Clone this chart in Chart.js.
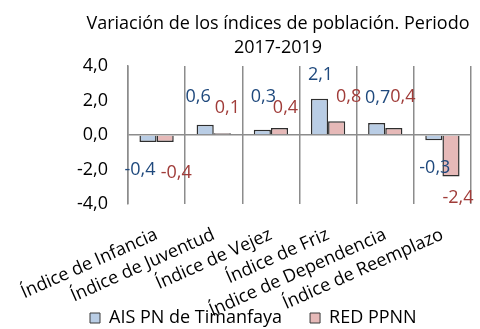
<!DOCTYPE html>
<html>
<head>
<meta charset="utf-8">
<script src="https://cdn.jsdelivr.net/npm/chart.js@4/dist/chart.umd.min.js"></script>
<style>
  html, body { margin: 0; padding: 0; background: #fff; }
  #wrap { width: 480px; height: 329px; }
</style>
</head>
<body>
<div id="wrap"><canvas id="c" width="480" height="329"></canvas></div>
<script>
// Índices de población: variación 2017-2019
const categories = [
  'Índice de Infancia',
  'Índice de Juventud',
  'Índice de Vejez',
  'Índice de Friz',
  'Índice de Dependencia',
  'Índice de Reemplazo'
];
const seriesNames = ['AIS PN de Timanfaya', 'RED PPNN'];
const timanfaya = [-0.4, 0.6, 0.3, 2.1, 0.7, -0.3];
const redPPNN = [-0.4, 0.1, 0.4, 0.8, 0.4, -2.4];
const yTicks = [-4, -2, 0, 2, 4];

const FONT = '"Open Sans", "Noto Sans", sans-serif';
const fmt = v => v.toFixed(1).replace('.', ',');

// value labels: pixel nudges from each bar's end, per series
const labelNudge = [
  [[-8, 28], [-7, -28], [1, -33], [1, -24], [1, -25], [1, 28]],
  [[11, 31], [5, -25], [6, -20], [12, -24], [9, -31], [7, 21]]
];
const labelColors = ['#1f497d', '#a03c39'];

const valueLabels = {
  id: 'valueLabels',
  afterDatasetsDraw(chart) {
    const ctx = chart.ctx;
    ctx.save();
    ctx.font = '18px ' + FONT;
    ctx.textAlign = 'center';
    ctx.textBaseline = 'middle';
    chart.data.datasets.forEach((ds, di) => {
      const meta = chart.getDatasetMeta(di);
      meta.data.forEach((bar, i) => {
        const [dx, dy] = labelNudge[di][i];
        ctx.fillStyle = labelColors[di];
        ctx.fillText(fmt(ds.data[i]), bar.x + dx, bar.y + dy);
      });
    });
    ctx.restore();
  }
};

// place title and legend, and let category labels run to the canvas bottom
const boxShift = {
  id: 'boxShift',
  afterLayout(chart) {
    const t = chart.titleBlock;
    if (t) {
      const dx = 278 - (t.left + t.right) / 2;
      t.left += dx; t.right += dx;
    }
    const lg = chart.legend;
    if (lg && lg.lineWidths) {
      const p = lg.options.labels.padding;
      const start = (lg.left + p + lg.right - lg.lineWidths[0]) / 2;
      const dx = 90 - start;
      lg.left += dx; lg.right += dx;
      const dy = (318 - 9 - p) - lg.top;
      lg.top += dy; lg.bottom += dy;
    }
    if (chart.scales.x) chart.scales.x.bottom = chart.height;
  }
};

new Chart(document.getElementById('c'), {
  type: 'bar',
  data: {
    labels: categories,
    datasets: [
      {
        label: seriesNames[0],
        data: timanfaya,
        backgroundColor: '#b9cde5',
        borderColor: '#2e2e2e',
        borderWidth: 1.5
      },
      {
        label: seriesNames[1],
        data: redPPNN,
        backgroundColor: '#e6b9b8',
        borderColor: '#2e2e2e',
        borderWidth: 1.5
      }
    ]
  },
  options: {
    responsive: false,
    animation: false,
    devicePixelRatio: 1,
    layout: { padding: { left: 0, right: 9, top: 0, bottom: 0 } },
    datasets: { bar: { categoryPercentage: 0.6, barPercentage: 1 } },
    plugins: {
      title: {
        display: true,
        text: ['Variación de los índices de población. Periodo', '2017-2019'],
        color: '#000',
        font: { family: FONT, size: 18, weight: 'normal', lineHeight: 1.333 },
        padding: { top: 12, bottom: 6 }
      },
      legend: {
        display: true,
        position: 'bottom',
        labels: {
          color: '#000',
          font: { family: FONT, size: 18 },
          boxWidth: 10,
          boxHeight: 10,
          padding: 28,
          generateLabels(chart) {
            return chart.data.datasets.map((ds, i) => ({
              text: ds.label,
              fillStyle: ds.backgroundColor,
              strokeStyle: '#3a3a3a',
              lineWidth: 1,
              datasetIndex: i,
              hidden: false
            }));
          }
        }
      },
      tooltip: { enabled: false }
    },
    scales: {
      x: {
        grid: {
          offset: true,
          color: '#8c8c8c',
          lineWidth: 1.5,
          drawTicks: false
        },
        border: { display: false },
        ticks: {
          color: '#000',
          font: { family: FONT, size: 18 },
          minRotation: 24,
          maxRotation: 24,
          padding: 20,
          autoSkip: false
        },
        afterFit(scale) {
          const lg = scale.chart.legend;
          scale.height = scale.chart.height - 204 - (lg ? lg.height : 0);
          scale.paddingLeft = 0;
          scale.paddingRight = 0;
        }
      },
      y: {
        min: -4,
        max: 4,
        afterBuildTicks(scale) {
          scale.ticks = yTicks.map(v => ({ value: v }));
        },
        grid: {
          color: ctx => (ctx.tick && ctx.tick.value === 0 ? '#8c8c8c' : 'rgba(0,0,0,0)'),
          lineWidth: 1.5,
          drawTicks: false
        },
        border: { display: true, color: '#8c8c8c', width: 1.5 },
        ticks: {
          color: '#000',
          font: { family: FONT, size: 18 },
          padding: 20,
          callback: v => fmt(v)
        },
        afterFit(scale) { scale.width = 128; }
      }
    }
  },
  plugins: [valueLabels, boxShift]
});
</script>
</body>
</html>
